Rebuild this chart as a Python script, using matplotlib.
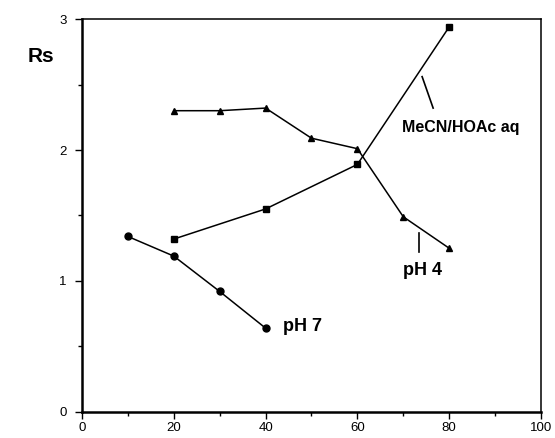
import numpy as np
import matplotlib.pyplot as plt
from matplotlib.ticker import MultipleLocator

plt.rcParams['font.family'] = ['Liberation Sans', 'DejaVu Sans']

# pH 7 series (circles)
x_ph7 = [10, 20, 30, 40]
y_ph7 = [1.34, 1.19, 0.92, 0.64]

# MeCN/HOAc aq series (squares)
x_mecn = [20, 40, 60, 80]
y_mecn = [1.32, 1.55, 1.89, 2.94]

# pH 4 series (triangles)
x_ph4 = [20, 30, 40, 50, 60, 70, 80]
y_ph4 = [2.30, 2.30, 2.32, 2.09, 2.01, 1.49, 1.25]

fig = plt.figure(figsize=(5.55, 4.38), dpi=100)
ax = fig.add_axes([0.1477, 0.0594, 0.8271, 0.8972])

kw = dict(color='black', lw=1.1, ms=5)
ax.plot(x_ph7, y_ph7, marker='o', **kw)
ax.plot(x_mecn, y_mecn, marker='s', **kw)
ax.plot(x_ph4, y_ph4, marker='^', **kw)

ax.set_xlim(0, 100)
ax.set_ylim(0, 3)
ax.xaxis.set_major_locator(MultipleLocator(20))
ax.xaxis.set_minor_locator(MultipleLocator(10))
ax.yaxis.set_major_locator(MultipleLocator(1))
ax.yaxis.set_minor_locator(MultipleLocator(0.5))
ax.tick_params(which='major', direction='out', length=5, width=1, labelsize=9.5)
ax.tick_params(axis='x', which='major', pad=2)
ax.tick_params(axis='y', which='major', pad=6)
ax.tick_params(which='minor', direction='out', length=3, width=1)
for s in ax.spines.values():
    s.set_linewidth(1.1)
ax.spines['left'].set_linewidth(1.8)
ax.spines['bottom'].set_linewidth(1.8)

# labels and annotations
fig.text(0.074, 0.87, 'Rs', fontsize=15, fontweight='bold', ha='center', va='center')
ax.text(69.7, 2.17, 'MeCN/HOAc aq', fontsize=11.5, fontweight='bold', va='center')
ax.plot([74.1, 76.5], [2.56, 2.32], color='black', lw=1.2)
ax.text(69.9, 1.08, 'pH 4', fontsize=13, fontweight='bold', va='center')
ax.plot([73.4, 73.4], [1.37, 1.22], color='black', lw=1.2)
ax.text(43.8, 0.65, 'pH 7', fontsize=13, fontweight='bold', va='center')

fig.savefig('out.png', dpi=100)
